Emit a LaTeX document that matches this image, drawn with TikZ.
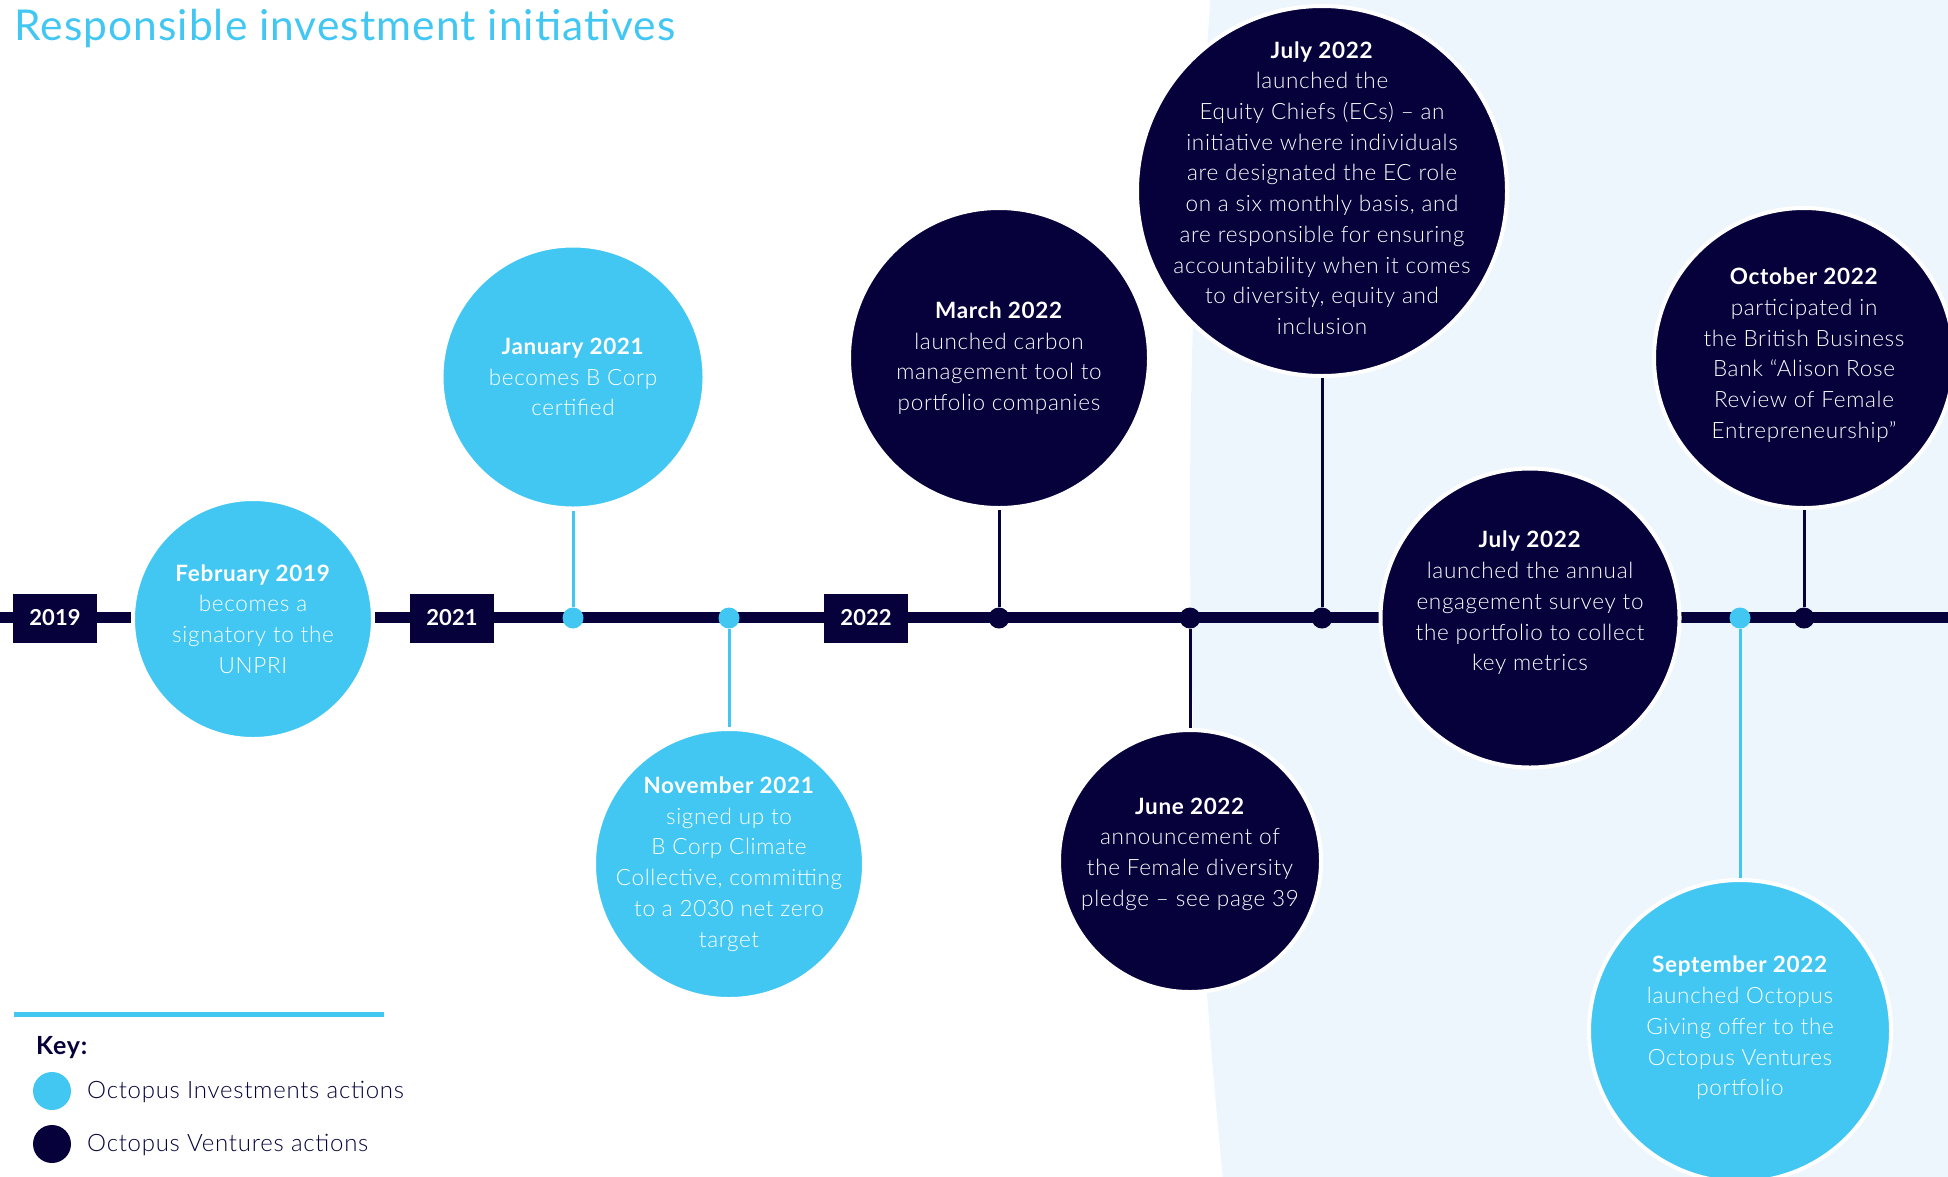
\documentclass[tikz,border=0pt]{standalone}
\usepackage{fontspec}
\setmainfont{Lato}
\newfontfamily\bodyfont{Lato}[UprightFont=* Light, BoldFont=* Bold, LetterSpace=3]
\newfontfamily\titlefont{Lato}[LetterSpace=2.5]
\definecolor{oiblue}{RGB}{66,199,242}
\definecolor{ovnavy}{RGB}{6,1,58}
\definecolor{bgpale}{RGB}{238,246,253}
\begin{document}
\begin{tikzpicture}[x=1pt,y=-1pt,
  evt/.style={circle, inner sep=0pt, draw=white, line width=4pt},
  inv/.style={evt, fill=oiblue},
  ven/.style={evt, fill=ovnavy},
  txt/.style={text=white, align=center, font=\bodyfont\fontsize{22.5}{30.7}\selectfont},
  yearbox/.style={fill=ovnavy, text=white, font=\bfseries\fontsize{22}{26}\selectfont, minimum width=84pt, minimum height=49pt, inner sep=0pt},
  dotinv/.style={circle, fill=oiblue, minimum size=21pt, inner sep=0pt},
  dotven/.style={circle, fill=ovnavy, minimum size=21pt, inner sep=0pt},
  conninv/.style={oiblue, line width=3pt},
  connven/.style={ovnavy, line width=3pt},
  keytxt/.style={text=ovnavy, anchor=west, font=\bodyfont\fontsize{24}{28}\selectfont, inner sep=0pt},
]
\useasboundingbox (0,0) rectangle (1948,1176);
% background
\begin{scope}
  \clip (0,0) rectangle (1948,1176);
  \fill[bgpale] (7690,520) circle[radius=6500pt];
\end{scope}
% title
\node[anchor=base west, text=oiblue, font=\titlefont\fontsize{42.5}{46}\selectfont, inner sep=0pt] (title) at (14,40) {Responsible investment initiatives};
% timeline
\coordinate (tl0) at (0,617);
\coordinate (tl1) at (1948,617);
\draw[ovnavy, line width=11pt] (tl0) -- (tl1);
% dots
\node[dotinv] (jdot) at (573,618) {};
\node[dotinv] (ndot) at (729,618) {};
\node[dotven] (mdot) at (999,618) {};
\node[dotven] (udot) at (1190,618) {};
\node[dotven] (ydot) at (1322,618) {};
\node[dotinv] (sdot) at (1740,618) {};
\node[dotven] (odot) at (1804,618) {};
% circles
\node[inv, minimum size=240pt] (feb) at (253,619) {};
\node[inv, minimum size=263pt] (jan) at (573,377) {};
\node[inv, minimum size=270pt] (nov) at (729,864) {};
\node[ven, minimum size=300pt] (mar) at (999,358) {};
\node[ven, minimum size=262pt] (jun) at (1190,861) {};
\node[ven, minimum size=370pt] (jul) at (1322,191) {};
\node[ven, minimum size=299pt] (sur) at (1530,618) {};
\node[inv, minimum size=302pt] (sep) at (1740,1031) {};
\node[ven, minimum size=300pt] (oct) at (1804,358) {};
% connectors
\draw[conninv] (jdot) -- (jan);
\draw[conninv] (ndot) -- (nov);
\draw[connven] (mdot) -- (mar);
\draw[connven] (udot) -- (jun);
\draw[connven] (ydot) -- (jul);
\draw[conninv] (sdot) -- (sep);
\draw[connven] (odot) -- (oct);
% year boxes
\node[yearbox] (y2019) at (55,618) {2019};
\node[yearbox] (y2021) at (452,618) {2021};
\node[yearbox] (y2022) at (866,618) {2022};
% texts
\node[txt] (tfeb) at (feb.center) {\textbf{February 2019}\\becomes a\\signatory to the\\UNPRI};
\node[txt] (tjan) at (jan.center) {\textbf{January 2021}\\becomes B Corp\\certified};
\node[txt] (tnov) at (nov.center) {\textbf{November 2021}\\signed up to\\B Corp Climate\\Collective, committing\\to a 2030 net zero\\target};
\node[txt] (tmar) at (mar.center) {\textbf{March 2022}\\launched carbon\\management tool to\\portfolio companies};
\node[txt] (tjun) at ([yshift=7pt]jun.center) {\textbf{June 2022}\\announcement of\\the Female diversity\\pledge – see page 39};
\node[txt] (tjul) at ([yshift=3pt]jul.center) {\textbf{July 2022}\\launched the\\Equity Chiefs (ECs) – an\\initiative where individuals\\are designated the EC role\\on a six monthly basis, and\\are responsible for ensuring\\accountability when it comes\\to diversity, equity and\\inclusion};
\node[txt] (tsur) at ([yshift=15pt]sur.center) {\textbf{July 2022}\\launched the annual\\engagement survey to\\the portfolio to collect\\key metrics};
\node[txt] (tsep) at ([yshift=3pt]sep.center) {\textbf{September 2022}\\launched Octopus\\Giving offer to the\\Octopus Ventures\\portfolio};
\node[txt] (toct) at ([yshift=3pt]oct.center) {\textbf{October 2022}\\participated in\\the British Business\\Bank “Alison Rose\\Review of Female\\Entrepreneurship”};
% key
\coordinate (kl0) at (14,1014);
\coordinate (kl1) at (384,1014);
\draw[oiblue, line width=5pt] (kl0) -- (kl1);
\node[keytxt, font=\bodyfont\bfseries\fontsize{25}{29}\selectfont] (keyhead) at (36,1048) {Key:};
\node[circle, fill=oiblue, minimum size=38pt, inner sep=0pt] (keyinv) at (52,1091) {};
\node[circle, fill=ovnavy, minimum size=38pt, inner sep=0pt] (keyven) at (52,1144) {};
\node[keytxt] (keyinvt) at (87,1092) {Octopus Investments actions};
\node[keytxt] (keyvent) at (87,1145) {Octopus Ventures actions};
\end{tikzpicture}
\end{document}
